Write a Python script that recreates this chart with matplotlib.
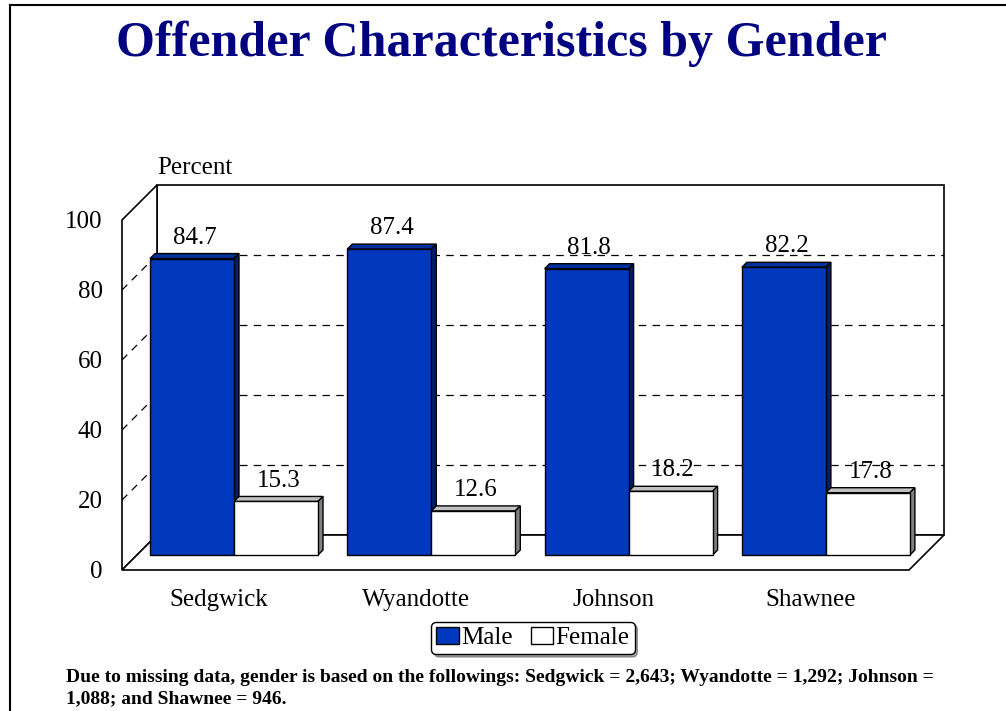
import matplotlib
matplotlib.use('Agg')
import matplotlib.pyplot as plt
from matplotlib.patches import Polygon, Patch
from matplotlib.lines import Line2D

counties = ['Sedgwick', 'Wyandotte', 'Johnson', 'Shawnee']
male = [84.7, 87.4, 81.8, 82.2]
female = [15.3, 12.6, 18.2, 17.8]
yticks = [0, 20, 40, 60, 80, 100]

plt.rcParams['font.family'] = ['Liberation Serif', 'DejaVu Serif']

W, H = 1006, 711
fig = plt.figure(figsize=(W / 100, H / 100), dpi=100)

# pixel scale of the plot box (x: one unit per county, y: percent)
PX_X = 197.3
PY = 3.5
X0_PX = 234          # pixel x of first county's center
LEFT_PX, RIGHT_PX = 122, 944
TOP_PX, BASE_PX = 186, 570

ax = fig.add_axes([LEFT_PX / W, 1 - BASE_PX / H,
                   (RIGHT_PX - LEFT_PX) / W, (BASE_PX - TOP_PX) / H])
ax.set_xlim((LEFT_PX - X0_PX) / PX_X, (RIGHT_PX - X0_PX) / PX_X)
ax.set_ylim(0, (BASE_PX - TOP_PX) / PY)
for s in ax.spines.values():
    s.set_visible(False)


def off(d):
    # shift in data units for a depth of d pixels (45 degree oblique)
    return d / PX_X, d / PY


DEPTH = 35           # wall depth in px
BAR_FRONT = 15       # bar front face depth in px
BAR_D = 5            # bar thickness in px

dxw, dyw = off(DEPTH)
xl = (LEFT_PX - X0_PX) / PX_X
xr = (RIGHT_PX - DEPTH - X0_PX) / PX_X
ytop = 100

# walls and floor
wall = dict(facecolor='white', edgecolor='black', lw=1.2, zorder=1, clip_on=False)
ax.add_patch(Polygon([(xl + dxw, dyw), (xr + dxw, dyw), (xr + dxw, ytop + dyw),
                      (xl + dxw, ytop + dyw)], closed=True, **wall))
ax.add_patch(Polygon([(xl, 0), (xl + dxw, dyw), (xl + dxw, ytop + dyw), (xl, ytop)],
                     closed=True, **wall))
ax.add_patch(Polygon([(xl, 0), (xr, 0), (xr + dxw, dyw), (xl + dxw, dyw)],
                     closed=True, **wall))

# dashed gridlines on back and side walls
for t in yticks[1:-1]:
    ax.plot([xl + dxw, xr + dxw], [t + dyw, t + dyw], color='black', lw=0.9,
            dashes=(6, 5), zorder=2)
    ax.plot([xl, xl + dxw], [t, t + dyw], color='black', lw=0.9,
            dashes=(6, 5), zorder=2)

bw = 84 / PX_X
fx, fy = off(BAR_FRONT)
tx, ty = off(BAR_D)
xs = list(range(len(counties)))


def bars3d(xpos, vals, face, top, side):
    rects = ax.bar(xpos, vals, width=bw, bottom=fy, align='edge',
                   color=face, edgecolor='black', lw=1, zorder=4)
    for r in rects:
        x0, w, h = r.get_x(), r.get_width(), r.get_height()
        yb = r.get_y()
        ax.add_patch(Polygon([(x0, yb + h), (x0 + tx, yb + h + ty), (x0 + w + tx, yb + h + ty),
                              (x0 + w, yb + h)], closed=True, facecolor=top,
                             edgecolor='black', lw=1, zorder=3))
        ax.add_patch(Polygon([(x0 + w, yb), (x0 + w + tx, yb + ty), (x0 + w + tx, yb + h + ty),
                              (x0 + w, yb + h)], closed=True, facecolor=side,
                             edgecolor='black', lw=1, zorder=3))
    return rects


male_bars = bars3d([x - bw for x in xs], male, '#0039BE', '#00309A', '#001E6E')
female_bars = bars3d(xs, female, 'white', '#C0C0C0', '#808080')

for rects, vals in ((male_bars, male), (female_bars, female)):
    for r, v in zip(rects, vals):
        ax.text(r.get_x() + r.get_width() / 2 + tx / 2, r.get_y() + v + ty + 1.4,
                f'{v:.1f}', ha='center', va='bottom', fontsize=18, zorder=5)

ax.set_yticks(yticks)
ax.set_yticklabels([str(t) for t in yticks], fontsize=18)
ax.set_xticks([x - fx for x in xs])
ax.set_xticklabels(counties, fontsize=18)
ax.tick_params(length=0, axis='y', pad=14)
ax.tick_params(length=0, axis='x', pad=14)

fig.text(157 / W, 1 - 168 / H, 'Percent', fontsize=18, va='center', ha='left')

fig.text(502 / W, 1 - 44 / H, 'Offender Characteristics by Gender', fontsize=36,
         fontweight='bold', color='#000080', ha='center', va='center')

handles = [Patch(facecolor='#0039BE', edgecolor='black', label='Male'),
           Patch(facecolor='white', edgecolor='black', label='Female')]
fig.legend(handles=handles, loc='center', bbox_to_anchor=(533 / W, 1 - 638 / H),
           ncol=2, fontsize=18, frameon=True, fancybox=True, shadow=True,
           edgecolor='black', framealpha=1, handlelength=0.9, handleheight=0.7,
           handletextpad=0.1, columnspacing=0.7, borderpad=0.2)

fig.text(66 / W, 1 - 688 / H,
         'Due to missing data, gender is based on the followings: Sedgwick = 2,643; '
         'Wyandotte = 1,292; Johnson =\n1,088; and Shawnee = 946.',
         fontsize=14, fontweight='bold', va='center', ha='left', linespacing=1.3)

# page frame along top and left edges
fig.add_artist(Line2D([9.5 / W, 1], [1 - 5 / H, 1 - 5 / H], color='black', lw=1.5))
fig.add_artist(Line2D([9.5 / W, 9.5 / W], [0, 1 - 5 / H], color='black', lw=1.5))

fig.savefig('out.png', dpi=100)
